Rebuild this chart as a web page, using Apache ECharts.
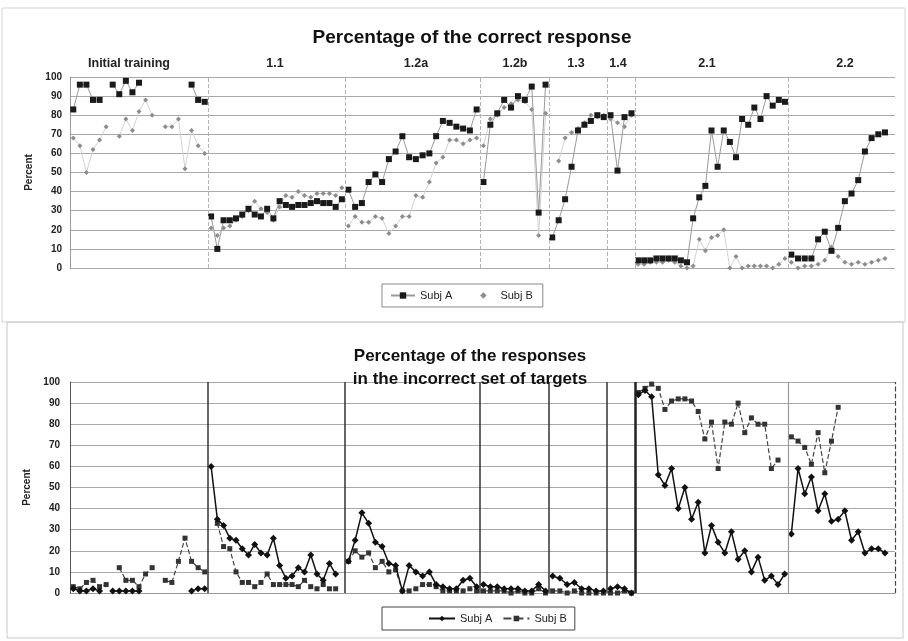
<!DOCTYPE html>
<html><head><meta charset="utf-8">
<script src="https://cdn.jsdelivr.net/npm/echarts@6/dist/echarts.min.js"></script>
<style>html,body{margin:0;padding:0;background:#fff}#c{width:908px;height:641px}</style>
</head><body><div id="c"></div>
<script>
// ---- phases (x axis in session units) ----
const phaseNames = ['Initial training','1.1','1.2a','1.2b','1.3','1.4','2.1','2.2'];
const phaseEdges = [0, 27.6, 55, 82, 95.8, 107.4, 113, 143.6, 165];
const phaseLabelPos = [11.8, 41, 69.2, 89, 101.2, 109.6, 127.4, 155];
const yTicks = [0,10,20,30,40,50,60,70,80,90,100];

// ---- Percentage of the correct response ----
const correctA_init = [83,96,96,88,88,null,96,91,98,92,97,null,null,null,null,null,null,null,96,88,87];
const correctB_init = [68,64,50,62,67,74,null,69,78,72,82,88,80,null,74,74,78,52,72,64,60];
const correctA_11 = [27,10,25,25,26,28,31,28,27,31,26,35,33,32,33,33,34,35,34,34,32,36];
const correctB_11 = [21,17,21,22,25,27,30,35,31,29,25,32,38,37,40,38,37,39,39,39,38,42];
const correctA_12a = [41,32,34,45,49,45,57,61,69,58,57,59,60,69,77,76,74,73,72,83];
const correctB_12a = [22,27,24,24,27,26,18,22,27,27,38,37,45,55,58,67,67,65,67,68];
const correctA_12b = [45,75,81,88,84,90,88,95,29,96];
const correctB_12b = [64,78,80,84,86,88,87,83,17,81];
const correctA_13 = [16,25,36,53,72,75,77,80,79];
const correctB_13 = [null,56,68,71,73,76,80,79,80];
const correctA_14 = [80,51,79,81];
const correctB_14 = [78,76,74,80];
const correctA_21 = [4,4,4,5,5,5,5,4,3,26,37,43,72,53,72,66,58,78,75,84,78,90,85,88,87];
const correctB_21 = [2,2,3,3,3,4,3,1,0,1,15,9,16,17,20,0,6,0,1,1,1,1,0,2,5];
const correctA_22 = [7,5,5,5,15,19,9,21,35,39,46,61,68,70,71,null];
const correctB_22 = [3,0,1,1,2,4,11,6,3,2,3,2,3,4,5,null];

// ---- Percentage of the responses in the incorrect set of targets ----
const incorrectA_init = [2,1,1,2,1,null,1,1,1,1,1,null,null,null,null,null,null,null,1,2,2];
const incorrectB_init = [3,2,5,6,3,4,null,12,6,6,3,9,12,null,6,5,15,26,15,12,10];
const incorrectA_11 = [60,35,32,26,25,21,18,23,19,18,26,13,7,8,12,10,18,9,6,14,9,null];
const incorrectB_11 = [null,33,22,21,10,5,5,3,5,9,4,4,4,4,3,6,3,2,4,2,2,null];
const incorrectA_12a = [15,25,38,33,24,22,14,13,1,13,10,8,10,4,3,2,2,6,7,3];
const incorrectB_12a = [15,20,17,19,12,15,10,11,1,1,2,4,4,3,1,1,1,1,2,1];
const incorrectA_12b = [4,3,3,2,2,2,1,1,4,1];
const incorrectB_12b = [1,1,1,1,0,1,0,0,2,0];
const incorrectA_13 = [8,7,4,5,2,2,1,1];
const incorrectB_13 = [1,1,0,1,0,0,0,0];
const incorrectA_14 = [2,3,2,0];
const incorrectB_14 = [0,0,1,0];
const incorrectA_21 = [94,96,93,56,51,59,40,50,35,43,19,32,24,19,29,16,20,10,17,6,8,4,9];
const incorrectB_21 = [95,97,99,97,87,91,92,92,91,86,73,81,59,81,80,90,76,83,80,80,59,63,null];
const incorrectA_22 = [28,59,47,55,39,47,34,35,39,25,29,19,21,21,19,null];
const incorrectB_22 = [74,72,69,61,76,57,72,88,null,null,null,null,null,null,null,null];

// spread each phase's sessions evenly across that phase's span
function place(phases){
  const out = [];
  phases.forEach((vals, k) => {
    const a = phaseEdges[k], b = phaseEdges[k+1], step = (b - a) / vals.length;
    vals.forEach((v, i) => out.push([a + (i + 0.5) * step, v == null ? '-' : v]));
    out.push([b, '-']);
  });
  return out;
}
const cA = place([correctA_init,correctA_11,correctA_12a,correctA_12b,correctA_13,correctA_14,correctA_21,correctA_22]);
const cB = place([correctB_init,correctB_11,correctB_12a,correctB_12b,correctB_13,correctB_14,correctB_21,correctB_22]);
const iA = place([incorrectA_init,incorrectA_11,incorrectA_12a,incorrectA_12b,incorrectA_13,incorrectA_14,incorrectA_21,incorrectA_22]);
const iB = place([incorrectB_init,incorrectB_11,incorrectB_12a,incorrectB_12b,incorrectB_13,incorrectB_14,incorrectB_21,incorrectB_22]);

const FONT = 'Liberation Sans, Arial, sans-serif';
const xMax = phaseEdges[phaseEdges.length-1];
const SUFFIX = ' (incorrect set)';

function yAxisCfg(gridIndex, gap, margin, lineColor){
  return {
    gridIndex, type:'value', min:0, max:100, interval:10,
    name:'Percent', nameLocation:'middle', nameGap:gap,
    nameTextStyle:{fontFamily:FONT, fontWeight:'bold', fontSize:10, color:'#222'},
    axisLine:{show:true, lineStyle:{color:lineColor, width:1}},
    axisTick:{show:false},
    axisLabel:{fontFamily:FONT, fontWeight:'bold', fontSize:10, color:'#222', margin:margin},
    splitLine:{show:true, lineStyle:{color:'#a8a8a8', width:1}}
  };
}

const topSeps = phaseEdges.slice(1, -1).map(x => ({xAxis:x}));
const bottomSeps = phaseEdges.slice(1).map((x, k) => {
  let ls = {color:'#333', width:1.5, type:'solid'};
  if (k === 5) ls = {color:'#222', width:2.5, type:'solid'};
  if (k === 6) ls = {color:'#999', width:1.2, type:'solid'};
  if (k === 7) ls = {color:'#444', width:1.2, type:'dashed'};
  return {xAxis:x, lineStyle:ls};
});

const option = {
  animation:false,
  backgroundColor:'#fff',
  title:[
    {text:'Percentage of the correct response', left:467, top:23, textAlign:'center',
     textStyle:{fontFamily:FONT, fontWeight:'bold', fontSize:19, color:'#111'}},
    {text:'Percentage of the responses\nin the incorrect set of targets', left:465, top:340, textAlign:'center',
     textStyle:{fontFamily:FONT, fontWeight:'bold', fontSize:17, lineHeight:23, color:'#111'}}
  ],
  legend:[
    {left:382, top:284, orient:'horizontal', padding:[6,10,6,8], itemGap:18, itemWidth:24, itemHeight:8,
     borderColor:'#888', borderWidth:1, selectedMode:false,
     textStyle:{fontFamily:FONT, fontSize:11, color:'#222'},
     data:[
       {name:'Subj A'},
       {name:'Subj B', lineStyle:{opacity:0}}
     ]},
    {left:382, top:607, orient:'horizontal', padding:[6,8,6,46], itemGap:10, itemWidth:26, itemHeight:7,
     borderColor:'#444', borderWidth:1, selectedMode:false,
     textStyle:{fontFamily:FONT, fontSize:11, color:'#222'},
     formatter: name => name.replace(SUFFIX, ''),
     data:['Subj A' + SUFFIX, 'Subj B' + SUFFIX]}
  ],
  grid:[
    {left:70, right:13, top:77, height:191},
    {left:70, right:13, top:382, height:211}
  ],
  xAxis:[
    {gridIndex:0, type:'value', min:0, max:xMax, axisLine:{show:false}, axisTick:{show:false},
     axisLabel:{show:false}, splitLine:{show:false}},
    {gridIndex:0, type:'value', position:'top', min:0, max:xMax, axisLine:{show:false}, axisTick:{show:false},
     splitLine:{show:false},
     axisLabel:{show:true, customValues:phaseLabelPos, margin:7,
       formatter:v => { const k = phaseLabelPos.indexOf(v); return k >= 0 ? phaseNames[k] : ''; },
       fontFamily:FONT, fontWeight:'bold', fontSize:12.5, color:'#222'}},
    {gridIndex:1, type:'value', min:0, max:xMax, axisLine:{show:true, lineStyle:{color:'#999'}}, axisTick:{show:false},
     axisLabel:{show:false}, splitLine:{show:false}}
  ],
  yAxis:[
    yAxisCfg(0, 35, 8, '#999'),
    yAxisCfg(1, 38, 10, '#555')
  ],
  graphic:[
    {type:'rect', shape:{x:2, y:8, width:903, height:314}, style:{fill:'none', stroke:'#d4d4d4', lineWidth:1}, silent:true, z:-1},
    {type:'rect', shape:{x:7, y:322, width:896, height:316}, style:{fill:'none', stroke:'#c8c8c8', lineWidth:1}, silent:true, z:-1}
  ],
  series:[
    {name:'Subj A', type:'line', xAxisIndex:0, yAxisIndex:0, data:cA, connectNulls:false,
     symbol:'rect', symbolSize:6, showAllSymbol:true,
     itemStyle:{color:'#1a1a1a'}, lineStyle:{color:'#9a9a9a', width:1}, z:4},
    {name:'Subj B', type:'line', xAxisIndex:0, yAxisIndex:0, data:cB, connectNulls:false,
     symbol:'diamond', symbolSize:5, showAllSymbol:true,
     itemStyle:{color:'#8c8c8c'}, lineStyle:{color:'#d2d2d2', width:1}, z:3,
     markLine:{silent:true, symbol:['none','none'], label:{show:false},
       lineStyle:{color:'#b4b4b4', width:1, type:'dashed'}, data:topSeps}},
    {name:'Subj A' + SUFFIX, type:'line', xAxisIndex:2, yAxisIndex:1, data:iA, connectNulls:false,
     symbol:'diamond', symbolSize:7, showAllSymbol:true,
     itemStyle:{color:'#111'}, lineStyle:{color:'#111', width:1.5}, z:4,
     markLine:{silent:true, symbol:['none','none'], label:{show:false}, data:bottomSeps}},
    {name:'Subj B' + SUFFIX, type:'line', xAxisIndex:2, yAxisIndex:1, data:iB, connectNulls:false,
     symbol:'rect', symbolSize:5, showAllSymbol:true,
     itemStyle:{color:'#333'}, lineStyle:{color:'#444', width:1.2, type:'dashed'}, z:3}
  ]
};
const chart = echarts.init(document.getElementById('c'), null, {renderer:'canvas'});
chart.setOption(option);
</script>
</body></html>
